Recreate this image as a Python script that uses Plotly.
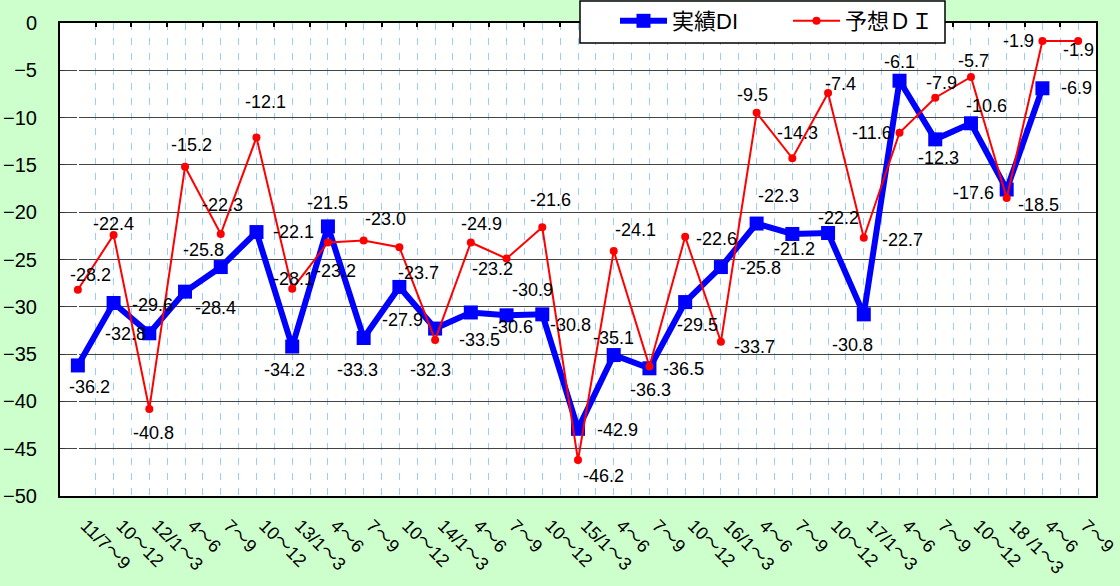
import plotly.graph_objects as go

categories = ["11/7～9", "10～12", "12/1～3", "4～6", "7～9", "10～12",
              "13/1～3", "4～6", "7～9", "10～12", "14/1～3", "4～6", "7～9", "10～12",
              "15/1～3", "4～6", "7～9", "10～12", "16/1～3", "4～6", "7～9", "10～12",
              "17/1～3", "4～6", "7～9", "10～12", "18 /1～3", "4～6", "7～9"]

actual_di = [-36.2, -29.6, -32.8, -28.4, -25.8, -22.1, -34.2, -21.5, -33.3, -27.9,
             -32.3, -30.6, -30.9, -30.8, -42.9, -35.1, -36.5, -29.5, -25.8, -21.2,
             -22.3, -22.2, -30.8, -6.1, -12.3, -10.6, -17.6, -6.9, None]

forecast_di = [-28.2, -22.4, -40.8, -15.2, -22.3, -12.1, -28.1, -23.2, -23.0, -23.7,
               -33.5, -23.2, -24.9, -21.6, -46.2, -24.1, -36.3, -22.6, -33.7, -9.5,
               -14.3, -7.4, -22.7, -11.6, -7.9, -5.7, -18.5, -1.9, -1.9]

y_ticks = [0, -5, -10, -15, -20, -25, -30, -35, -40, -45, -50]

# label offsets in pixels (dx right, dy down) - styling only
actual_label_offsets = [(12, 22), (39, 2), (-24, 1), (30, 16), (-17, -17), (37, 0), (-8, 23),
                        (0, -23), (-6, 32), (3, 33), (-5, 41), (42, 15), (26, -25), (28, 11),
                        (39, 1), (0, -17), (34, 1), (12, 23), (40, 1), (38, 25), (-14, -38),
                        (10, -15), (-11, 31), (0, -19), (3, 19), (16, -17), (-33, 3), (34, 0)]
forecast_label_offsets = [(13, -15), (0, -11), (4, 24), (6, -22), (2, -29), (9, -35), (1, -10),
                          (8, 29), (22, -22), (19, 26), (44, 0), (22, 27), (-25, -35), (8, -27),
                          (25, 16), (22, -21), (1, 24), (31, 2), (34, 5), (-4, -18), (5, -25),
                          (12, -9), (39, 2), (-28, 0), (6, -15), (3, -16), (32, 7), (-24, 0), (0, 9)]

FONT = "Liberation Sans, Arial, Noto Sans CJK JP, sans-serif"
W, H = 1120, 586
ML, MR, MT, MB = 60, 24, 23, 90
PW, PH = W - ML - MR, H - MT - MB
xs = list(range(len(categories)))

fig = go.Figure()
fig.add_trace(go.Scatter(
    x=xs, y=actual_di, name="実績DI", mode="lines+markers",
    line=dict(color="#0000FF", width=6),
    marker=dict(symbol="square", size=14, color="#0000FF"),
))
fig.add_trace(go.Scatter(
    x=xs, y=forecast_di, name="予想ＤＩ", mode="lines+markers",
    line=dict(color="#FF0000", width=2),
    marker=dict(symbol="circle", size=8, color="#FF0000"),
))

annotations = []
for i, v in enumerate(actual_di):
    if v is None:
        continue
    dx, dy = actual_label_offsets[i]
    annotations.append(dict(x=i, y=v, xref="x", yref="y", text=f"{v:.1f}", showarrow=False,
                            xshift=dx, yshift=-dy, font=dict(family=FONT, size=18, color="black")))
for i, v in enumerate(forecast_di):
    dx, dy = forecast_label_offsets[i]
    annotations.append(dict(x=i, y=v, xref="x", yref="y", text=f"{v:.1f}", showarrow=False,
                            xshift=dx, yshift=-dy, font=dict(family=FONT, size=18, color="black")))

boundaries = [i + 0.5 for i in xs[:-1]]

# legend frame (pixel box converted to paper coords)
def px_x(p):
    return (p - ML) / PW

def px_y(p):
    return (H - MB - p) / PH

legend_frame = dict(type="rect", xref="paper", yref="paper", layer="above",
                    x0=px_x(580), x1=px_x(945), y0=px_y(43), y1=px_y(1),
                    fillcolor="white", line=dict(color="black", width=1.5))

fig.update_layout(
    width=W, height=H,
    paper_bgcolor="#CCFFCC", plot_bgcolor="white",
    margin=dict(l=ML, r=MR, t=MT, b=MB, autoexpand=False),
    font=dict(family=FONT, size=18, color="black"),
    annotations=annotations,
    shapes=[legend_frame],
    showlegend=True,
    legend=dict(orientation="h", xref="container", yref="container",
                x=615 / W, y=1 - 0 / H, xanchor="left", yanchor="top",
                bgcolor="rgba(0,0,0,0)", borderwidth=0,
                font=dict(family=FONT, size=22, color="black"),
                itemwidth=47, entrywidth=111, entrywidthmode="pixels",
                traceorder="normal"),
    xaxis=dict(
        range=[-0.5, len(categories) - 0.5], automargin=False,
        tickmode="array", tickvals=xs, ticktext=categories, tickangle=45,
        tickfont=dict(family=FONT, size=18, color="black"),
        ticklabelstandoff=10, ticklabelshift=8,
        showgrid=True, gridcolor="#99CCFF", griddash="7px,8px", gridwidth=1,
        minor=dict(dtick=0.5, tick0=0, showgrid=True, gridcolor="#99CCFF", griddash="7px,8px", gridwidth=1),
        showline=True, linecolor="black", linewidth=2, mirror=True,
        ticks="", zeroline=False,
    ),
    xaxis2=dict(
        overlaying="x", side="top", matches="x", range=[-0.5, len(categories) - 0.5],
        automargin=False,
        tickmode="array", tickvals=boundaries, showticklabels=False,
        ticks="inside", ticklen=4, tickcolor="black", tickwidth=2, showgrid=False,
        showline=False,
    ),
    yaxis=dict(
        range=[-50, 0], tickmode="array", tickvals=y_ticks, automargin=False,
        tickfont=dict(family=FONT, size=20, color="black"),
        ticklabelstandoff=17,
        showgrid=True, gridcolor="#444444", gridwidth=1,
        showline=True, linecolor="black", linewidth=2, mirror=True,
        ticks="inside", ticklen=5, tickcolor="#333333", zeroline=False,
    ),
)
# invisible trace to activate xaxis2
fig.add_trace(go.Scatter(x=[0], y=[None], xaxis="x2", showlegend=False, hoverinfo="skip"))

fig.write_html("out.html", config={"displayModeBar": False},
               post_script="document.body.style.margin='0';document.body.style.overflow='hidden';")
